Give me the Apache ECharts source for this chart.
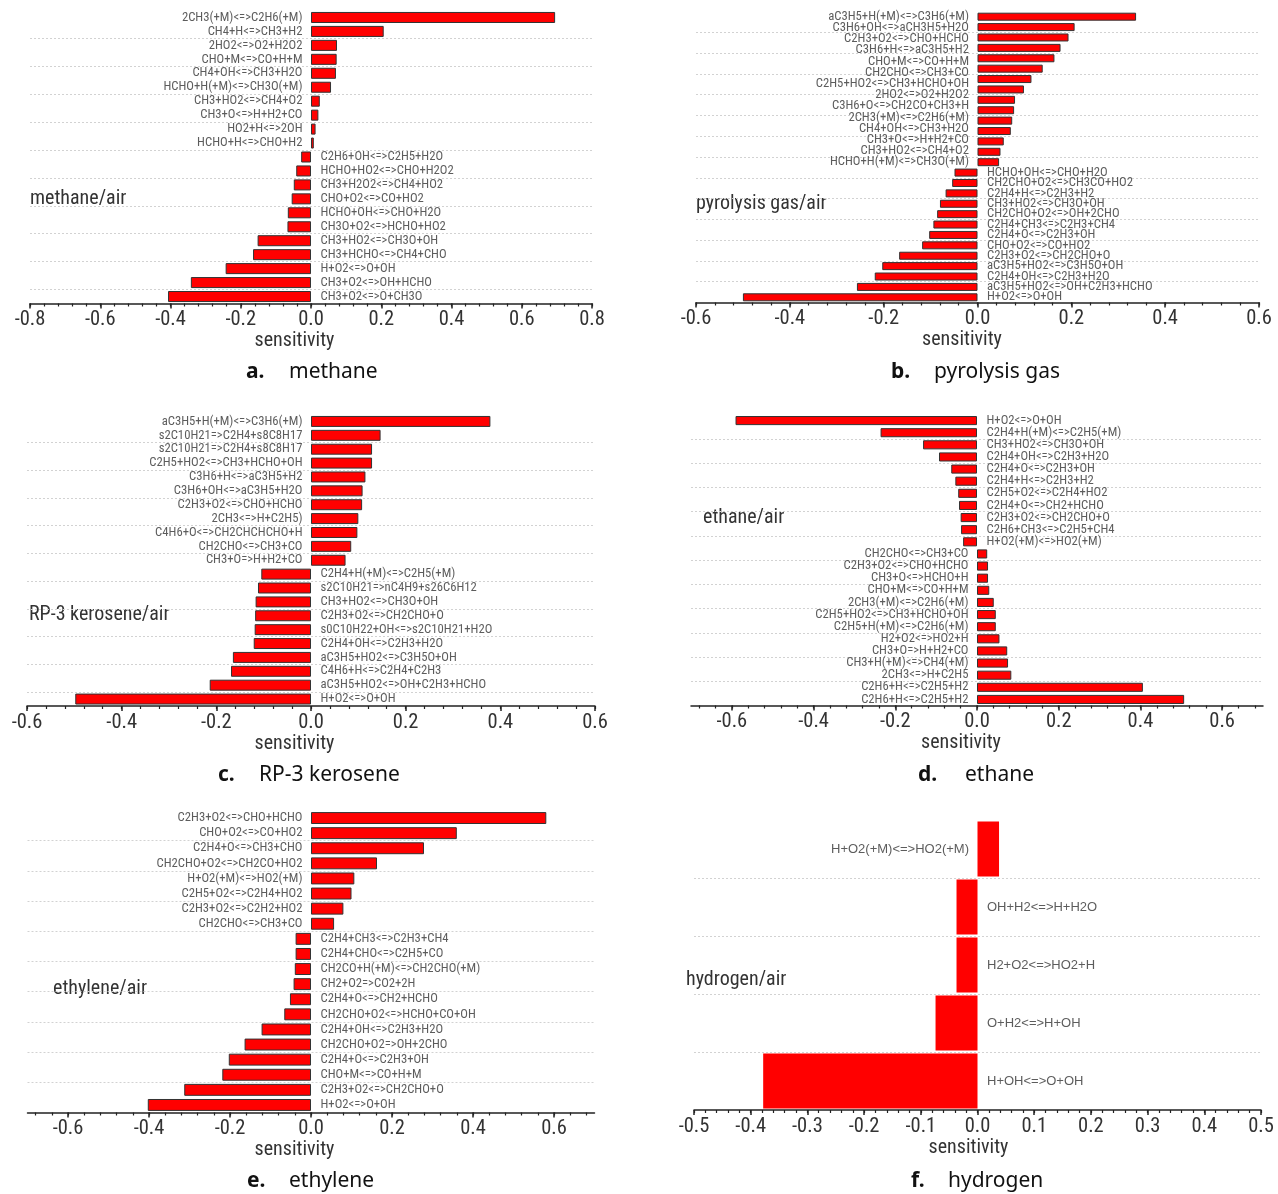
<!DOCTYPE html>
<html>
<head>
<meta charset="utf-8">
<script src="https://cdn.jsdelivr.net/npm/echarts@6/dist/echarts.min.js"></script>
<style>
  html, body { margin: 0; padding: 0; background: #fff; }
  #chart { width: 1278px; height: 1194px; }
</style>
</head>
<body>
<div id="chart"></div>
<script>
// ---- methane/air ----
const methanePosNames = ["2CH3(+M)<=>C2H6(+M)", "CH4+H<=>CH3+H2", "2HO2<=>O2+H2O2", "CHO+M<=>CO+H+M", "CH4+OH<=>CH3+H2O", "HCHO+H(+M)<=>CH3O(+M)", "CH3+HO2<=>CH4+O2", "CH3+O<=>H+H2+CO", "HO2+H<=>2OH", "HCHO+H<=>CHO+H2"];
const methanePosVals = [0.695, 0.207, 0.074, 0.073, 0.071, 0.057, 0.025, 0.021, 0.013, 0.008];
const methaneNegNames = ["C2H6+OH<=>C2H5+H2O", "HCHO+HO2<=>CHO+H2O2", "CH3+H2O2<=>CH4+HO2", "CHO+O2<=>CO+HO2", "HCHO+OH<=>CHO+H2O", "CH3O+O2<=>HCHO+HO2", "CH3+HO2<=>CH3O+OH", "CH3+HCHO<=>CH4+CHO", "H+O2<=>O+OH", "CH3+O2<=>OH+HCHO", "CH3+O2<=>O+CH3O"];
const methaneNegVals = [-0.028, -0.042, -0.049, -0.055, -0.066, -0.067, -0.152, -0.165, -0.243, -0.342, -0.407];

// ---- pyrolysis gas/air ----
const pyroPosNames = ["aC3H5+H(+M)<=>C3H6(+M)", "C3H6+OH<=>aCH3H5+H2O", "C2H3+O2<=>CHO+HCHO", "C3H6+H<=>aC3H5+H2", "CHO+M<=>CO+H+M", "CH2CHO<=>CH3+CO", "C2H5+HO2<=>CH3+HCHO+OH", "2HO2<=>O2+H2O2", "C3H6+O<=>CH2CO+CH3+H", "2CH3(+M)<=>C2H6(+M)", "CH4+OH<=>CH3+H2O", "CH3+O<=>H+H2+CO", "CH3+HO2<=>CH4+O2", "HCHO+H(+M)<=>CH3O(+M)"];
const pyroPosVals = [0.338, 0.207, 0.194, 0.177, 0.164, 0.139, 0.115, 0.099, 0.080, 0.078, 0.074, 0.071, 0.056, 0.049, 0.046];
const pyroNegNames = ["HCHO+OH<=>CHO+H2O", "CH2CHO+O2<=>CH3CO+HO2", "C2H4+H<=>C2H3+H2", "CH3+HO2<=>CH3O+OH", "CH2CHO+O2<=>OH+2CHO", "C2H4+CH3<=>C2H3+CH4", "C2H4+O<=>C2H3+OH", "CHO+O2<=>CO+HO2", "C2H3+O2<=>CH2CHO+O", "aC3H5+HO2<=>C3H5O+OH", "C2H4+OH<=>C2H3+H2O", "aC3H5+HO2<=>OH+C2H3+HCHO", "H+O2<=>O+OH"];
const pyroNegVals = [-0.049, -0.054, -0.068, -0.080, -0.086, -0.094, -0.103, -0.118, -0.167, -0.203, -0.219, -0.257, -0.500];

// ---- RP-3 kerosene/air ----
const keroPosNames = ["aC3H5+H(+M)<=>C3H6(+M)", "s2C10H21=>C2H4+s8C8H17", "s2C10H21=>C2H4+s8C8H17", "C2H5+HO2<=>CH3+HCHO+OH", "C3H6+H<=>aC3H5+H2", "C3H6+OH<=>aC3H5+H2O", "C2H3+O2<=>CHO+HCHO", "2CH3<=>H+C2H5)", "C4H6+O<=>CH2CHCHCHO+H", "CH2CHO<=>CH3+CO", "CH3+O=>H+H2+CO"];
const keroPosVals = [0.379, 0.147, 0.129, 0.129, 0.115, 0.109, 0.108, 0.100, 0.098, 0.085, 0.073];
const keroNegNames = ["C2H4+H(+M)<=>C2H5(+M)", "s2C10H21=>nC4H9+s26C6H12", "CH3+HO2<=>CH3O+OH", "C2H3+O2<=>CH2CHO+O", "s0C10H22+OH<=>s2C10H21+H2O", "C2H4+OH<=>C2H3+H2O", "aC3H5+HO2<=>C3H5O+OH", "C4H6+H<=>C2H4+C2H3", "aC3H5+HO2<=>OH+C2H3+HCHO", "H+O2<=>O+OH"];
const keroNegVals = [-0.105, -0.112, -0.117, -0.118, -0.119, -0.121, -0.165, -0.169, -0.214, -0.498];

// ---- ethane/air ----
const ethaneNegNames = ["H+O2<=>O+OH", "C2H4+H(+M)<=>C2H5(+M)", "CH3+HO2<=>CH3O+OH", "C2H4+OH<=>C2H3+H2O", "C2H4+O<=>C2H3+OH", "C2H4+H<=>C2H3+H2", "C2H5+O2<=>C2H4+HO2", "C2H4+O<=>CH2+HCHO", "C2H3+O2<=>CH2CHO+O", "C2H6+CH3<=>C2H5+CH4", "H+O2(+M)<=>HO2(+M)"];
const ethaneNegVals = [-0.591, -0.236, -0.132, -0.093, -0.063, -0.053, -0.046, -0.044, -0.040, -0.039, -0.034];
const ethanePosNames = ["CH2CHO<=>CH3+CO", "C2H3+O2<=>CHO+HCHO", "CH3+O<=>HCHO+H", "CHO+M<=>CO+H+M", "2CH3(+M)<=>C2H6(+M)", "C2H5+HO2<=>CH3+HCHO+OH", "C2H5+H(+M)<=>C2H6(+M)", "H2+O2<=>HO2+H", "CH3+O=>H+H2+CO", "CH3+H(+M)<=>CH4(+M)", "2CH3<=>H+C2H5", "C2H6+H<=>C2H5+H2", "C2H6+H<=>C2H5+H2"];
const ethanePosVals = [0.025, 0.027, 0.027, 0.030, 0.041, 0.046, 0.046, 0.055, 0.074, 0.076, 0.084, 0.406, 0.507];

// ---- ethylene/air ----
const ethylenePosNames = ["C2H3+O2<=>CHO+HCHO", "CHO+O2<=>CO+HO2", "C2H4+O<=>CH3+CHO", "CH2CHO+O2<=>CH2CO+HO2", "H+O2(+M)<=>HO2(+M)", "C2H5+O2<=>C2H4+HO2", "C2H3+O2<=>C2H2+HO2", "CH2CHO<=>CH3+CO"];
const ethylenePosVals = [0.581, 0.360, 0.279, 0.163, 0.107, 0.100, 0.080, 0.057];
const ethyleneNegNames = ["C2H4+CH3<=>C2H3+CH4", "C2H4+CHO<=>C2H5+CO", "CH2CO+H(+M)<=>CH2CHO(+M)", "CH2+O2=>CO2+2H", "C2H4+O<=>CH2+HCHO", "CH2CHO+O2<=>HCHO+CO+OH", "C2H4+OH<=>C2H3+H2O", "CH2CHO+O2=>OH+2CHO", "C2H4+O<=>C2H3+OH", "CHO+M<=>CO+H+M", "C2H3+O2<=>CH2CHO+O", "H+O2<=>O+OH"];
const ethyleneNegVals = [-0.038, -0.038, -0.040, -0.043, -0.052, -0.066, -0.122, -0.164, -0.203, -0.219, -0.313, -0.403];

// ---- hydrogen/air ----
const hydrogenPosNames = ["H+O2(+M)<=>HO2(+M)"];
const hydrogenPosVals = [0.038];
const hydrogenNegNames = ["OH+H2<=>H+H2O", "H2+O2<=>HO2+H", "O+H2<=>H+OH", "H+OH<=>O+OH"];
const hydrogenNegVals = [-0.037, -0.037, -0.074, -0.378];

// ---- axis tick labels ----
const ticksA = [-0.8, -0.6, -0.4, -0.2, 0.0, 0.2, 0.4, 0.6, 0.8];
const ticksB = [-0.6, -0.4, -0.2, 0.0, 0.2, 0.4, 0.6];
const ticksF = [-0.5, -0.4, -0.3, -0.2, -0.1, 0.0, 0.1, 0.2, 0.3, 0.4, 0.5];

const NARROW = "'Roboto Condensed','Roboto',sans-serif";
const CAPTION = "'Noto Sans','DejaVu Sans',sans-serif";

function steps(from, to, step) {
  const out = [];
  const n = Math.round((to - from) / step);
  for (let i = 0; i <= n; i++) out.push(+(from + i * step).toFixed(4));
  return out;
}

const panels = [
  { title: 'methane/air', titleX: 30, titleY: 199, cap: ['a.', 'methane'], capX: [246, 289], capY: 372,
    left: 30, top: 10.5, width: 562, height: 293, min: -0.8, max: 0.8, majors: ticksA, minors: steps(-0.8, 0.8, 0.04),
    namePad: 33, barWidth: '79%',
    groups: [{ names: methanePosNames, values: methanePosVals }, { names: methaneNegNames, values: methaneNegVals }] },
  { title: 'pyrolysis gas/air', titleX: 696, titleY: 204, cap: ['b.', 'pyrolysis gas'], capX: [891, 934], capY: 372,
    left: 696, top: 11.5, width: 563, height: 291, min: -0.6, max: 0.6, majors: ticksB, minors: steps(-0.6, 0.6, 0.04),
    namePad: 31, barWidth: '77%',
    groups: [{ names: pyroPosNames, values: pyroPosVals }, { names: pyroNegNames, values: pyroNegVals }] },
  { title: 'RP-3 kerosene/air', titleX: 29, titleY: 615, cap: ['c.', 'RP-3 kerosene'], capX: [218, 259], capY: 775,
    left: 27, top: 414.5, width: 568, height: 291.5, min: -0.6, max: 0.6, majors: ticksB, minors: steps(-0.6, 0.6, 0.04),
    namePad: 33, barWidth: '79%',
    groups: [{ names: keroPosNames, values: keroPosVals }, { names: keroNegNames, values: keroNegVals }] },
  { title: 'ethane/air', titleX: 703, titleY: 518, cap: ['d.', 'ethane'], capX: [918, 965], capY: 775,
    left: 691, top: 414.5, width: 572, height: 291, min: -0.7, max: 0.7, majors: ticksB, minors: steps(-0.68, 0.68, 0.04),
    namePad: 32, barWidth: '75%',
    groups: [{ names: ethaneNegNames, values: ethaneNegVals }, { names: ethanePosNames, values: ethanePosVals }] },
  { title: 'ethylene/air', titleX: 53, titleY: 989, cap: ['e.', 'ethylene'], capX: [247, 289], capY: 1181,
    left: 27.5, top: 810.5, width: 567, height: 302, min: -0.7, max: 0.7, majors: ticksB, minors: steps(-0.68, 0.68, 0.04),
    namePad: 33, barWidth: '79%',
    groups: [{ names: ethylenePosNames, values: ethylenePosVals }, { names: ethyleneNegNames, values: ethyleneNegVals }] },
  { title: 'hydrogen/air', titleX: 686, titleY: 980, cap: ['f.', 'hydrogen'], capX: [911, 948], capY: 1181,
    left: 694, top: 820, width: 567, height: 290, min: -0.5, max: 0.5, majors: ticksF, minors: steps(-0.5, 0.5, 0.02),
    namePad: 18, barWidth: '95%', plain: true,
    groups: [{ names: hydrogenPosNames, values: hydrogenPosVals }, { names: hydrogenNegNames, values: hydrogenNegVals }] }
];

const option = { animation: false, backgroundColor: '#fff', grid: [], xAxis: [], yAxis: [], series: [], graphic: [] };

function labelSeries(xi, yi, names, first, side, p) {
  return {
    type: 'scatter', xAxisIndex: xi, yAxisIndex: yi, silent: true,
    symbolSize: 1, itemStyle: { color: 'rgba(0,0,0,0)' },
    data: names.map((nm, i) => ({ value: [0, first + i], name: nm })),
    label: {
      show: true, position: side, distance: side === 'left' ? 8 : 9, formatter: '{b}',
      fontFamily: p.plain ? "'Liberation Sans',Arial,sans-serif" : NARROW,
      fontSize: p.plain ? 13 : 12.7, color: '#333'
    }
  };
}

panels.forEach(p => {
  const gi = option.grid.length;
  option.grid.push({ left: p.left, top: p.top, width: p.width, height: p.height });
  const values = [].concat(...p.groups.map(g => g.values));
  const n = values.length;

  const xi = option.xAxis.length;
  option.xAxis.push({
    type: 'value', gridIndex: gi, position: 'bottom', min: p.min, max: p.max,
    axisLine: { show: true, onZero: false, lineStyle: { color: '#222', width: 1.5 } },
    axisTick: { show: true, customValues: p.majors, length: 5, lineStyle: { color: '#222', width: 1.5 } },
    axisLabel: { show: true, customValues: p.majors, formatter: v => v.toFixed(1),
      fontFamily: NARROW, fontSize: 20.5, color: '#333', margin: 6 },
    splitLine: { show: false },
    name: 'sensitivity', nameLocation: 'middle', nameGap: 24,
    nameTextStyle: { fontFamily: NARROW, fontSize: 20, color: '#333', padding: [0, p.namePad, 0, 0] }
  });
  option.xAxis.push({
    type: 'value', gridIndex: gi, position: 'bottom', min: p.min, max: p.max,
    axisLine: { show: false },
    axisTick: { show: true, customValues: p.minors, length: 3, lineStyle: { color: '#222', width: 1.2 } },
    axisLabel: { show: false }, splitLine: { show: false }
  });

  const yi = option.yAxis.length;
  option.yAxis.push({
    type: 'category', gridIndex: gi, inverse: true, data: values.map((_, i) => String(i)),
    axisLine: { show: false }, axisTick: { show: false }, axisLabel: { show: false },
    splitLine: { show: true, showMinLine: false, showMaxLine: false,
      lineStyle: { color: '#d2d2d2', type: [2, 2], width: 1 } }
  });

  option.series.push({
    type: 'bar', xAxisIndex: xi, yAxisIndex: yi, silent: true, data: values, barWidth: p.barWidth,
    itemStyle: p.plain ? { color: '#ff0000' } : { color: '#ff0000', borderColor: '#333', borderWidth: 1 }
  });

  // reaction labels sit beside the zero line, on the side opposite the bar
  let first = 0;
  p.groups.forEach(g => {
    const side = g.values[0] >= 0 ? 'left' : 'right';
    if (g.names.length === g.values.length) {
      option.series.push(labelSeries(xi, yi, g.names, first, side, p));
    } else {
      // label column spread evenly over the rows of its bar group
      const band = p.height / n;
      const lg = option.grid.length;
      option.grid.push({ left: p.left, width: p.width,
        top: p.top + band * (first + 0.5), height: band * (g.values.length - 1) });
      const lx = option.xAxis.length;
      option.xAxis.push({ type: 'value', gridIndex: lg, min: p.min, max: p.max, show: false });
      const ly = option.yAxis.length;
      option.yAxis.push({ type: 'category', gridIndex: lg, inverse: true, boundaryGap: false,
        data: g.names.map((_, i) => String(i)), show: false });
      option.series.push(labelSeries(lx, ly, g.names, 0, side, p));
    }
    first += g.values.length;
  });

  option.graphic.push({
    type: 'text', x: p.titleX, y: p.titleY, silent: true,
    style: { text: p.title, fontFamily: NARROW, fontSize: 20, fill: '#333', align: 'left', verticalAlign: 'middle' }
  });
  option.graphic.push({
    type: 'text', x: p.capX[0], y: p.capY, silent: true,
    style: { text: p.cap[0], fontFamily: CAPTION, fontSize: 21, fontWeight: 'bold', fill: '#111', align: 'left', verticalAlign: 'middle' }
  });
  option.graphic.push({
    type: 'text', x: p.capX[1], y: p.capY, silent: true,
    style: { text: p.cap[1], fontFamily: CAPTION, fontSize: 21, fill: '#111', align: 'left', verticalAlign: 'middle' }
  });
});

const chart = echarts.init(document.getElementById('chart'), null, { renderer: 'canvas' });
chart.setOption(option);
</script>
</body>
</html>
